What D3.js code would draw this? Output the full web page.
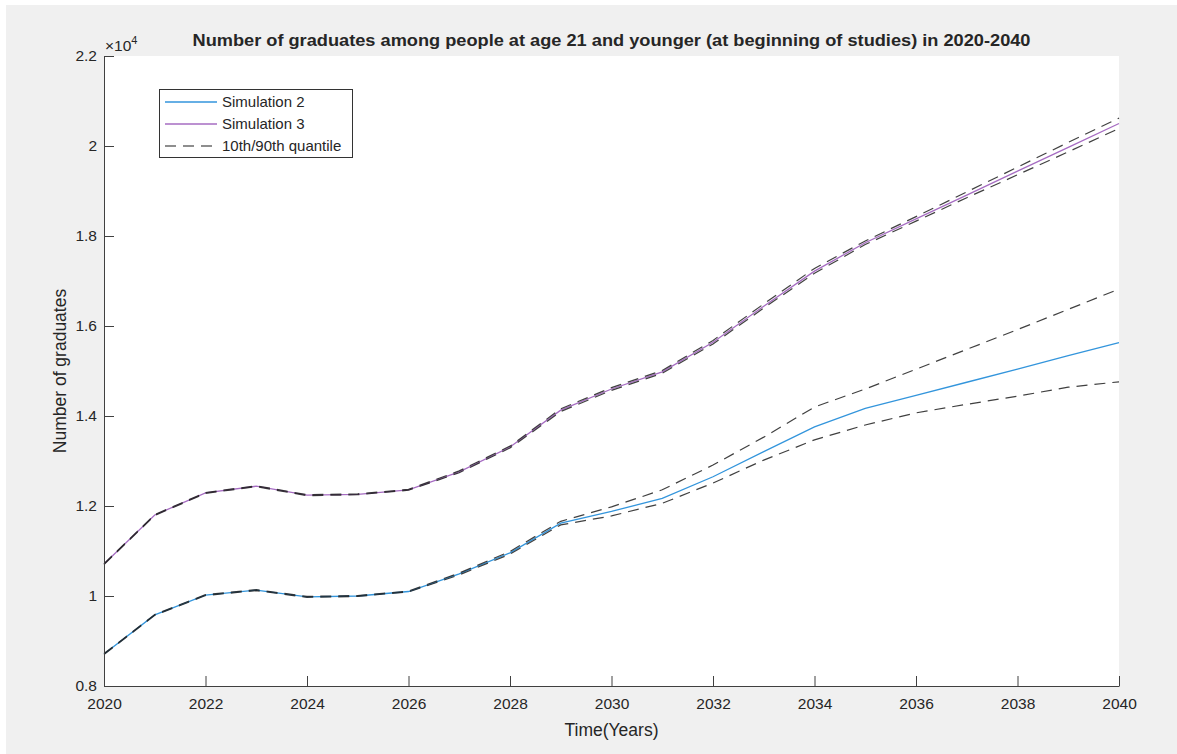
<!DOCTYPE html>
<html>
<head>
<meta charset="utf-8">
<script src="https://cdn.jsdelivr.net/npm/d3@7"></script>
<style>
  html, body { margin: 0; padding: 0; background: #ffffff; }
  svg { display: block; }
  text { font-family: "Liberation Sans", Arial, Helvetica, sans-serif; fill: #262626; }
</style>
</head>
<body>
<svg id="chart" width="1177" height="754"></svg>
<script>
// Years on the horizontal axis
const years = [2020, 2021, 2022, 2023, 2024, 2025, 2026, 2027, 2028, 2029, 2030,
               2031, 2032, 2033, 2034, 2035, 2036, 2037, 2038, 2039, 2040];

// Simulation 2 (median) and its 10th / 90th quantiles
const sim2 = [8710, 9580, 10020, 10130, 9980, 10000, 10100, 10490, 10960, 11620, 11880,
              12170, 12650, 13210, 13760, 14170, 14460, 14750, 15040, 15340, 15630];
const sim2Q90 = [8720, 9590, 10030, 10140, 9990, 10010, 10110, 10510, 10990, 11660, 11980,
                 12360, 12910, 13530, 14200, 14600, 15040, 15480, 15920, 16370, 16820];
const sim2Q10 = [8700, 9570, 10010, 10120, 9970, 9990, 10090, 10470, 10930, 11580, 11780,
                 12060, 12510, 13020, 13470, 13800, 14070, 14260, 14440, 14640, 14760];

// Simulation 3 (median) and its 10th / 90th quantiles
const sim3 = [10710, 11800, 12290, 12440, 12240, 12260, 12360, 12760, 13310, 14130, 14600,
              14980, 15640, 16440, 17220, 17850, 18380, 18910, 19440, 19970, 20500];
const sim3Q90 = [10720, 11810, 12300, 12450, 12250, 12270, 12370, 12780, 13330, 14160, 14630,
                 15010, 15680, 16490, 17280, 17890, 18430, 18980, 19530, 20080, 20620];
const sim3Q10 = [10700, 11790, 12280, 12430, 12230, 12250, 12350, 12740, 13290, 14100, 14570,
                 14950, 15600, 16400, 17170, 17810, 18330, 18850, 19360, 19870, 20390];

// Axis ticks
const xTicks = [2020, 2022, 2024, 2026, 2028, 2030, 2032, 2034, 2036, 2038, 2040];
const yTicks = [8000, 10000, 12000, 14000, 16000, 18000, 20000, 22000];
const yTickLabels = ["0.8", "1", "1.2", "1.4", "1.6", "1.8", "2", "2.2"];

const legendLabels = ["Simulation 2", "Simulation 3", "10th/90th quantile"];

const svg = d3.select("#chart");

// Figure background
svg.append("rect").attr("x", 6).attr("y", 5).attr("width", 1171).attr("height", 749)
  .attr("fill", "#f0f0f0");

const plotLeft = 104, plotRight = 1119, plotTop = 56, plotBottom = 686;
const x = d3.scaleLinear().domain([2020, 2040]).range([plotLeft, plotRight]);
const y = d3.scaleLinear().domain([8000, 22000]).range([plotBottom, plotTop]);

// Axes area
svg.append("rect").attr("x", plotLeft).attr("y", plotTop)
  .attr("width", plotRight - plotLeft).attr("height", plotBottom - plotTop).attr("fill", "#ffffff");

const line = d3.line().x((d, i) => x(years[i])).y(d => y(d));

const blue = "#3395dc";
const purple = "#a66cc2";

const plot = svg.append("g");
plot.append("path").datum(sim2).attr("d", line)
  .attr("fill", "none").attr("stroke", blue).attr("stroke-width", 1.3);
plot.append("path").datum(sim3).attr("d", line)
  .attr("fill", "none").attr("stroke", purple).attr("stroke-width", 1.3);

[sim2Q90, sim2Q10, sim3Q90, sim3Q10].forEach(series => {
  plot.append("path").datum(series).attr("d", line)
    .attr("fill", "none").attr("stroke", "#1e1e1e").attr("stroke-width", 1.2)
    .attr("stroke-dasharray", "11,7").attr("stroke-opacity", 0.85);
});

// Axes
const axisFont = "15.5px";
const xAxis = d3.axisBottom(x).tickValues(xTicks).tickFormat(d3.format("d"))
  .tickSizeInner(-10).tickSizeOuter(0).tickPadding(12);
const gx = svg.append("g").attr("transform", `translate(0,${plotBottom})`).call(xAxis);

const yAxis = d3.axisLeft(y).tickValues(yTicks).tickFormat((d, i) => yTickLabels[i])
  .tickSizeInner(-10).tickSizeOuter(0).tickPadding(7);
const gy = svg.append("g").attr("transform", `translate(${plotLeft},0)`).call(yAxis);

[gx, gy].forEach(g => {
  g.select(".domain").attr("stroke", "#404040").attr("stroke-width", 1);
  g.selectAll(".tick line").attr("stroke", "#404040").attr("stroke-width", 1);
  g.selectAll(".tick text").attr("fill", "#262626")
    .style("font-size", axisFont)
    .style("font-family", "'Liberation Sans', Arial, Helvetica, sans-serif");
});

// Exponent marker
const expo = svg.append("text").attr("x", 105).attr("y", 51)
  .style("font-size", "15.5px");
expo.append("tspan").text("\u00d710");
expo.append("tspan").attr("dy", -7).style("font-size", "11px").text("4");

// Title
svg.append("text").attr("x", (plotLeft + plotRight) / 2).attr("y", 46)
  .attr("text-anchor", "middle").style("font-size", "17px").style("font-weight", "bold")
  .attr("textLength", 838).attr("lengthAdjust", "spacingAndGlyphs")
  .attr("fill", "#000").text("Number of graduates among people at age 21 and younger (at beginning of studies) in 2020-2040");

// Axis labels
svg.append("text").attr("x", (plotLeft + plotRight) / 2).attr("y", 736)
  .attr("text-anchor", "middle").style("font-size", "17.5px").text("Time(Years)");
svg.append("text").attr("transform", `translate(66,${(plotTop + plotBottom) / 2}) rotate(-90)`)
  .attr("text-anchor", "middle").style("font-size", "17.5px").text("Number of graduates");

// Legend
const lg = svg.append("g");
lg.append("rect").attr("x", 159.5).attr("y", 89.5).attr("width", 193).attr("height", 68)
  .attr("fill", "#ffffff").attr("stroke", "#333333").attr("stroke-width", 1);
const legendStyles = [
  { stroke: blue, dash: null, width: 1.3 },
  { stroke: purple, dash: null, width: 1.3 },
  { stroke: "#1e1e1e", dash: "11,7", width: 1.2 }
];
legendLabels.forEach((label, i) => {
  const ly = 102 + i * 22;
  const s = legendStyles[i];
  const l = lg.append("line").attr("x1", 165).attr("x2", 217).attr("y1", ly).attr("y2", ly)
    .attr("stroke", s.stroke).attr("stroke-width", s.width);
  if (s.dash) l.attr("stroke-dasharray", s.dash);
  lg.append("text").attr("x", 222).attr("y", ly + 5).style("font-size", "15px").text(label);
});
</script>
</body>
</html>
